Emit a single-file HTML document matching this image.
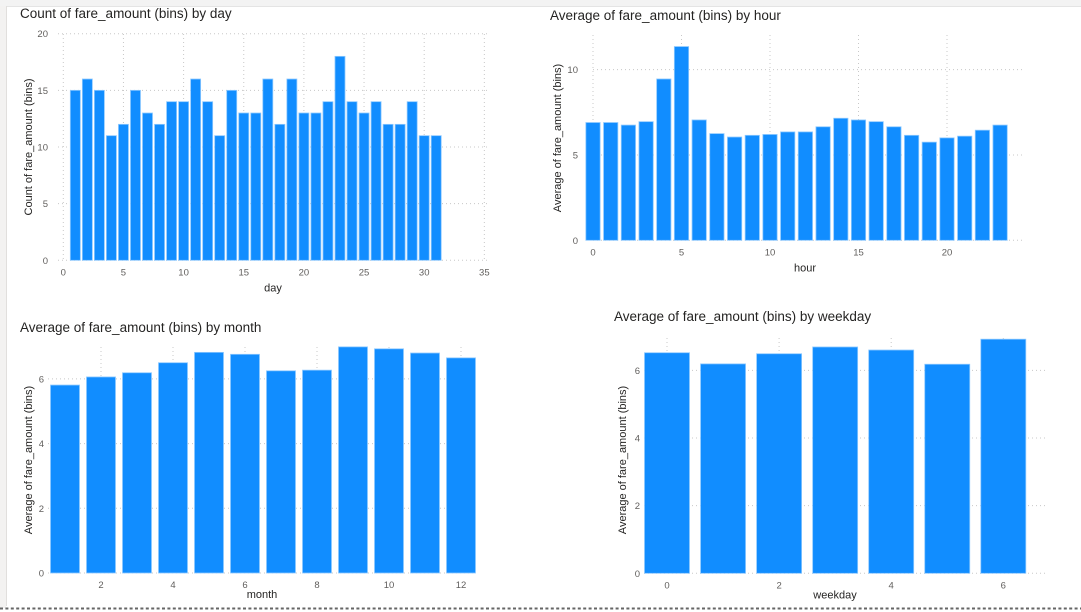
<!DOCTYPE html>
<html><head><meta charset="utf-8">
<style>
html,body{margin:0;padding:0;background:#fff;}
body{width:1081px;height:612px;overflow:hidden;position:relative;font-family:"Liberation Sans",sans-serif;}
svg{position:absolute;left:0;top:0;}
</style></head>
<body>
<svg id="chart" width="1081" height="612" xmlns="http://www.w3.org/2000/svg">
  <rect x="0" y="0" width="1081" height="6" fill="#f3f3f3"/>
  <line x1="0" y1="6.5" x2="1081" y2="6.5" stroke="#e4e4e4"/>
  <rect x="0" y="6" width="6" height="602" fill="#f3f2f1"/>
  <line x1="6.5" y1="6" x2="6.5" y2="606" stroke="#e1dfdd"/>
  <line x1="0" y1="608.5" x2="1081" y2="608.5" stroke="#666" stroke-width="2" stroke-dasharray="3,2.4"/>
</svg>
<script>
// ---- data ----
const dayCats = [1,2,3,4,5,6,7,8,9,10,11,12,13,14,15,16,17,18,19,20,21,22,23,24,25,26,27,28,29,30,31];
const dayCounts = [15,16,15,11,12,15,13,12,14,14,16,14,11,15,13,13,16,12,16,13,13,14,18,14,13,14,12,12,14,11,11];
const dayXTicks = [0,5,10,15,20,25,30,35];
const dayYTicks = [0,5,10,15,20];

const hourCats = [0,1,2,3,4,5,6,7,8,9,10,11,12,13,14,15,16,17,18,19,20,21,22,23];
const hourAvg = [6.9,6.9,6.75,6.95,9.45,11.35,7.05,6.25,6.05,6.15,6.2,6.35,6.35,6.65,7.15,7.05,6.95,6.65,6.15,5.75,6.0,6.1,6.45,6.75];
const hourXTicks = [0,5,10,15,20];
const hourYTicks = [0,5,10];

const monthCats = [1,2,3,4,5,6,7,8,9,10,11,12];
const monthAvg = [5.81,6.06,6.19,6.5,6.82,6.76,6.25,6.27,6.99,6.93,6.8,6.65];
const monthXTicks = [2,4,6,8,10,12];
const monthYTicks = [0,2,4,6];

const weekdayCats = [0,1,2,3,4,5,6];
const weekdayAvg = [6.52,6.19,6.49,6.69,6.6,6.18,6.92];
const weekdayXTicks = [0,2,4,6];
const weekdayYTicks = [0,2,4,6];

const svg = document.getElementById('chart');
const NS = 'http://www.w3.org/2000/svg';
function mk(tag, attrs, parent, text){
  const e = document.createElementNS(NS, tag);
  for (const k in attrs) e.setAttribute(k, attrs[k]);
  if (text !== undefined) e.textContent = text;
  (parent || svg).appendChild(e);
  return e;
}

function drawChart(cfg, cats, vals, xTicks, yTicks){
  const g = mk('g', {});
  
  
  const sx = v => cfg.x0px + (v - cfg.x0v) * cfg.xs;
  const sy = v => cfg.y0px - v * cfg.ys;
  const t = mk('text', {x:cfg.tx, y:cfg.ty, 'font-size':13.5, fill:'#252423'}, g, cfg.title);
  
  
  yTicks.forEach(v => {
    const y = sy(v);
    const gl = mk('line', {x1:cfg.gl, x2:cfg.gr, y1:y, y2:y, stroke:'#c8c8c8', 'stroke-dasharray':'1,3'}, g);
    
    
    const tl = mk('text', {x:cfg.ylx, y:y+3.5, 'font-size':9.5, fill:'#605e5c', 'text-anchor':'end'}, g, String(v));
    
    
  });
  xTicks.forEach(v => {
    const x = sx(v);
    if (cfg.vgrid) {
      const gl = mk('line', {x1:x, x2:x, y1:cfg.gt, y2:cfg.y0px, stroke:'#c8c8c8', 'stroke-dasharray':'1,3'}, g);
      
      
    }
    const tl = mk('text', {x:x, y:cfg.y0px+15, 'font-size':9.5, fill:'#605e5c', 'text-anchor':'middle'}, g, String(v));
    
    
  });
  cats.forEach((c, i) => {
    const x = sx(c), y = sy(vals[i]);
    const b = mk('rect', {x:x - cfg.bw/2, y:y, width:cfg.bw, height:cfg.y0px - y, fill:'#118DFF', stroke:'#8cc8ff', 'stroke-width':0.8}, g);
    
    
  });
  const xt = mk('text', {x:cfg.xtx, y:cfg.y0px+cfg.xto, 'font-size':11, fill:'#252423', 'text-anchor':'middle'}, g, cfg.xTitle);
  
  
  const yt = mk('text', {x:0, y:0, 'font-size':11, fill:'#252423', 'text-anchor':'middle', transform:'translate(' + cfg.ytx + ',' + cfg.yty + ') rotate(-90)'}, g, cfg.yTitle);
  
  
}

drawChart({name:'day-chart', title:'Count of fare_amount (bins) by day', tx:20, ty:18,
  x0px:63.3, x0v:0, xs:12.03, y0px:260.3, ys:11.33, bw:10, gl:58, gr:487, gt:34, vgrid:true,
  ylx:48, xtx:273, xto:31, xTitle:'day', ytx:32, yty:147, yTitle:'Count of fare_amount (bins)'},
  dayCats, dayCounts, dayXTicks, dayYTicks);

drawChart({name:'hour-chart', title:'Average of fare_amount (bins) by hour', tx:550, ty:20,
  x0px:593, x0v:0, xs:17.7, y0px:240.3, ys:17.07, bw:14.3, gl:593, gr:1025, gt:35, vgrid:true,
  ylx:578, xtx:805, xto:31, xTitle:'hour', ytx:561, yty:138, yTitle:'Average of fare_amount (bins)'},
  hourCats, hourAvg, hourXTicks, hourYTicks);

drawChart({name:'month-chart', title:'Average of fare_amount (bins) by month', tx:20, ty:332,
  x0px:101, x0v:2, xs:36, y0px:573, ys:32.35, bw:29, gl:48, gr:475, gt:347, vgrid:true,
  ylx:44, xtx:262, xto:25, xTitle:'month', ytx:32, yty:460, yTitle:'Average of fare_amount (bins)'},
  monthCats, monthAvg, monthXTicks, monthYTicks);

drawChart({name:'weekday-chart', title:'Average of fare_amount (bins) by weekday', tx:614, ty:321,
  x0px:667, x0v:0, xs:56.05, y0px:573.3, ys:33.83, bw:45, gl:644, gr:1045, gt:338, vgrid:true,
  ylx:640, xtx:835, xto:25, xTitle:'weekday', ytx:626, yty:460, yTitle:'Average of fare_amount (bins)'},
  weekdayCats, weekdayAvg, weekdayXTicks, weekdayYTicks);
</script>
</body></html>
